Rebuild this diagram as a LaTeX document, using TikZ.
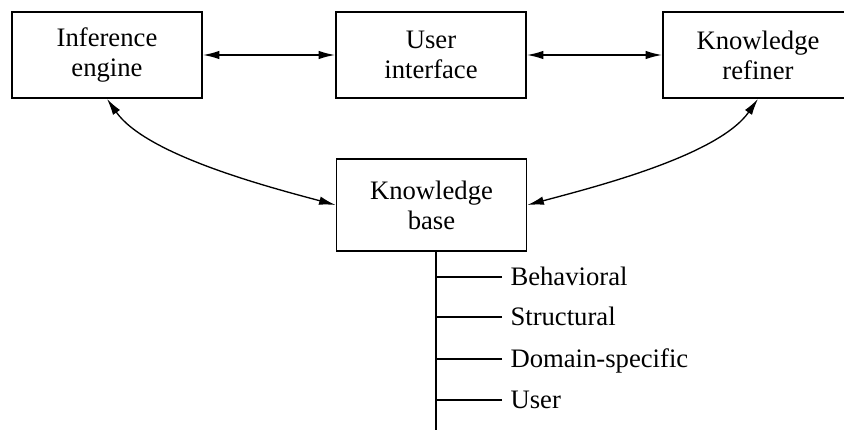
\documentclass[tikz,border=0pt]{standalone}
\usepackage{fontspec}
\setmainfont{Liberation Serif}
\usetikzlibrary{arrows.meta}

\begin{document}
\begin{tikzpicture}[x=0.375pt,y=0.375pt,
  >={Latex[length=6.2pt,width=3.2pt]},
  every node/.style={font=\fontsize{10}{11.25}\selectfont},
  box/.style={draw,line width=0.65pt,align=center,
              minimum width=71.25pt,minimum height=32.25pt},
  link/.style={<->,line width=0.5pt},
  leaf/.style={anchor=west,inner sep=3pt,text height=6.6pt,text depth=0pt}]
  \useasboundingbox (0,0) rectangle (844,430);
  % top row
  \node[box] (ie) at (107,375) {Inference\\ engine};
  \node[box] (ui) at (431,375) {User\\ interface};
  \node[box] (kr) at (758,375) {Knowledge\\ refiner};
  \node[box,minimum height=34.5pt] (kb) at (431.5,225) {Knowledge\\ base};
  \draw[link,line width=0.6pt] (ie) -- (ui);
  \draw[link,line width=0.6pt] (ui) -- (kr);
  \draw[link] (ie.south) to[out=-55,in=165,looseness=0.7] (kb.west);
  \draw[link] (kr.south) to[out=-125,in=15,looseness=0.7] (kb.east);
  % kinds of knowledge
  \coordinate (spine) at (436,0);
  \node[leaf] (beh) at (502,153) {Behavioral};
  \node[leaf] (str) at (502,113) {Structural};
  \node[leaf] (dom) at (502,71) {Domain-specific};
  \node[leaf] (usr) at (502,30) {User};
  \draw[line width=0.6pt] (kb.south -| spine) -- (spine);
  \draw[line width=0.6pt] (beh.west) -- (beh.west -| spine);
  \draw[line width=0.6pt] (str.west) -- (str.west -| spine);
  \draw[line width=0.6pt] (dom.west) -- (dom.west -| spine);
  \draw[line width=0.6pt] (usr.west) -- (usr.west -| spine);
\end{tikzpicture}
\end{document}
